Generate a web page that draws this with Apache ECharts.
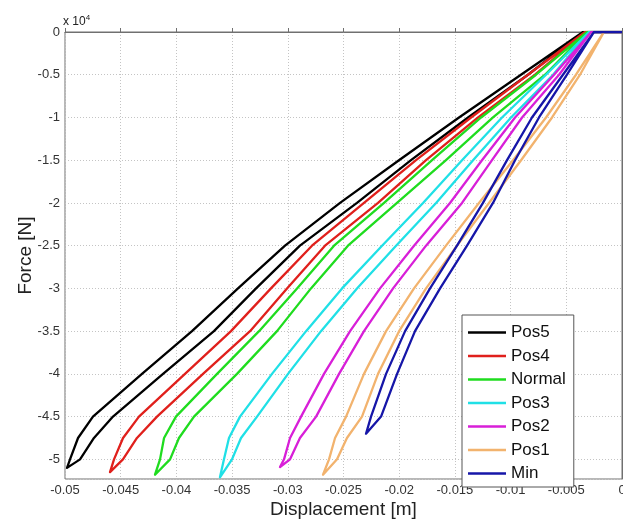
<!DOCTYPE html>
<html><head><meta charset="utf-8">
<script src="https://cdn.jsdelivr.net/npm/echarts@6/dist/echarts.min.js"></script>
<style>html,body{margin:0;padding:0;background:#fff;overflow:hidden}#c{width:623px;height:521px}</style>
</head><body><div id="c"></div>
<script>
// Force levels (N) at which branch displacements (m) were read
const forceLevels = [0, -5000, -10000, -15000, -20000, -25000, -30000, -35000, -40000, -45000, -47500, -50000];
const seriesNames = ['Pos5', 'Pos4', 'Normal', 'Pos3', 'Pos2', 'Pos1', 'Min'];
const seriesColors = ['#000000', '#e0201c', '#1fdc1f', '#20e0e6', '#d81fd8', '#f2b36e', '#1616a8'];

// outer (loading) and inner (unloading) branch displacement [m] at forceLevels, plus loop tip [m, N]
const pos5Down = [-0.00350, -0.00907, -0.01463, -0.02002, -0.02531, -0.03025, -0.03447, -0.03860, -0.04309, -0.04749, -0.04883, -0.04955];
const pos5Tip = [-0.04982, -51000];
const pos5Up = [-0.00350, -0.00844, -0.01382, -0.01894, -0.02379, -0.02891, -0.03285, -0.03663, -0.04120, -0.04569, -0.04740, -0.04865];

const pos4Down = [-0.00332, -0.00844, -0.01355, -0.01849, -0.02316, -0.02783, -0.03151, -0.03510, -0.03923, -0.04336, -0.04479, -0.04560];
const pos4Tip = [-0.04596, -51500];
const pos4Up = [-0.00332, -0.00781, -0.01292, -0.01759, -0.02190, -0.02666, -0.03007, -0.03339, -0.03761, -0.04174, -0.04354, -0.04480];

const normalDown = [-0.00314, -0.00772, -0.01265, -0.01705, -0.02136, -0.02585, -0.02917, -0.03258, -0.03635, -0.04004, -0.04111, -0.04147];
const normalTip = [-0.04192, -51800];
const normalUp = [-0.00314, -0.00691, -0.01158, -0.01580, -0.02020, -0.02460, -0.02792, -0.03097, -0.03456, -0.03842, -0.03977, -0.04057];

const pos3Down = [-0.00296, -0.00682, -0.01077, -0.01436, -0.01786, -0.02154, -0.02513, -0.02836, -0.03142, -0.03429, -0.03528, -0.03573];
const pos3Tip = [-0.03609, -52100];
const pos3Up = [-0.00296, -0.00619, -0.00996, -0.01337, -0.01669, -0.02028, -0.02379, -0.02702, -0.02998, -0.03276, -0.03420, -0.03501];

const pos2Down = [-0.00278, -0.00610, -0.00960, -0.01257, -0.01544, -0.01867, -0.02172, -0.02441, -0.02675, -0.02881, -0.02980, -0.03034];
const pos2Tip = [-0.03070, -50900];
const pos2Up = [-0.00278, -0.00565, -0.00897, -0.01167, -0.01436, -0.01759, -0.02055, -0.02316, -0.02540, -0.02746, -0.02891, -0.02980];

const pos1Down = [-0.00162, -0.00413, -0.00682, -0.00978, -0.01284, -0.01580, -0.01867, -0.02118, -0.02316, -0.02477, -0.02576, -0.02630];
const pos1Tip = [-0.02684, -51800];
const pos1Up = [-0.00162, -0.00377, -0.00628, -0.00906, -0.01194, -0.01481, -0.01759, -0.02001, -0.02190, -0.02334, -0.02469, -0.02558];

const minDown = [-0.00251, -0.00530, -0.00808, -0.01032, -0.01248, -0.01481, -0.01723, -0.01947, -0.02118, -0.02253];
const minTip = [-0.02298, -47000];
const minUp = [-0.00251, -0.00494, -0.00745, -0.00960, -0.01158, -0.01391, -0.01633, -0.01858, -0.02019, -0.02163];

const loops = [
  [pos5Down, pos5Tip, pos5Up],
  [pos4Down, pos4Tip, pos4Up],
  [normalDown, normalTip, normalUp],
  [pos3Down, pos3Tip, pos3Up],
  [pos2Down, pos2Tip, pos2Up],
  [pos1Down, pos1Tip, pos1Up],
  [minDown, minTip, minUp]
];

function buildLoop(down, tip, up) {
  const pts = [[0, 0]];
  down.forEach((x, i) => pts.push([x, forceLevels[i]]));
  pts.push(tip);
  for (let i = up.length - 1; i >= 0; i--) pts.push([up[i], forceLevels[i]]);
  pts.push([0, 0]);
  return pts;
}

const FONT = '"Liberation Sans", Arial, sans-serif';
const chart = echarts.init(document.getElementById('c'), null, {renderer: 'canvas'});
chart.setOption({
  animation: false,
  backgroundColor: '#ffffff',
  grid: {left: 65, right: 1, top: 32, bottom: 42, show: true, borderColor: '#707070', borderWidth: 1,
    backgroundColor: 'transparent', containLabel: false, outerBoundsMode: 'none'},
  xAxis: {
    type: 'value', min: -0.05, max: 0, interval: 0.005,
    name: 'Displacement [m]', nameLocation: 'middle', nameGap: 21, nameMoveOverlap: false,
    nameTextStyle: {fontFamily: FONT, fontSize: 19, color: '#222'},
    axisLine: {show: true, lineStyle: {color: '#707070'}},
    axisTick: {show: true, inside: true, length: 4, lineStyle: {color: '#707070'}},
    axisLabel: {fontFamily: FONT, fontSize: 13, color: '#333', margin: 5, hideOverlap: false,
      formatter: v => String(parseFloat(v.toFixed(4)))},
    splitLine: {show: true, lineStyle: {type: [1, 2], color: '#c4c4c4', width: 1}}
  },
  yAxis: {
    type: 'value', min: -52300, max: 0, splitNumber: 10,
    name: 'Force [N]', nameLocation: 'middle', nameGap: 30, nameRotate: 90, nameMoveOverlap: false,
    nameTextStyle: {fontFamily: FONT, fontSize: 19, color: '#222'},
    axisLine: {show: true, lineStyle: {color: '#707070'}},
    axisTick: {show: true, inside: true, length: 4, lineStyle: {color: '#707070'}},
    axisLabel: {fontFamily: FONT, fontSize: 13, color: '#333', margin: 5, showMinLabel: false,
      formatter: v => String(parseFloat((v / 10000).toFixed(2)))},
    splitLine: {show: true, lineStyle: {type: [1, 2], color: '#c4c4c4', width: 1}}
  },
  legend: {
    orient: 'vertical', left: 462, top: 315,
    padding: [9, 8, 5, 6], itemWidth: 38, itemHeight: 2.5, itemGap: 6.5, icon: 'rect',
    backgroundColor: '#ffffff', borderColor: '#555', borderWidth: 1,
    textStyle: {fontFamily: FONT, fontSize: 17, lineHeight: 17, color: '#111'},
    data: seriesNames
  },
  graphic: [{
    type: 'text', left: 63, top: 14,
    style: {
      text: '{a|x 10}{b|4}', font: '12px ' + FONT,
      rich: {a: {fontSize: 12, fontFamily: FONT, fill: '#222'}, b: {fontSize: 8, fontFamily: FONT, fill: '#222', verticalAlign: 'top', padding: [0, 0, 7, 0]}}
    }
  }],
  series: loops.map((l, i) => ({
    name: seriesNames[i], type: 'line', symbol: 'none', showSymbol: false,
    data: buildLoop(l[0], l[1], l[2]),
    lineStyle: {color: seriesColors[i], width: 2.3, join: 'round'},
    itemStyle: {color: seriesColors[i]},
    clip: true
  }))
});
</script></body></html>
